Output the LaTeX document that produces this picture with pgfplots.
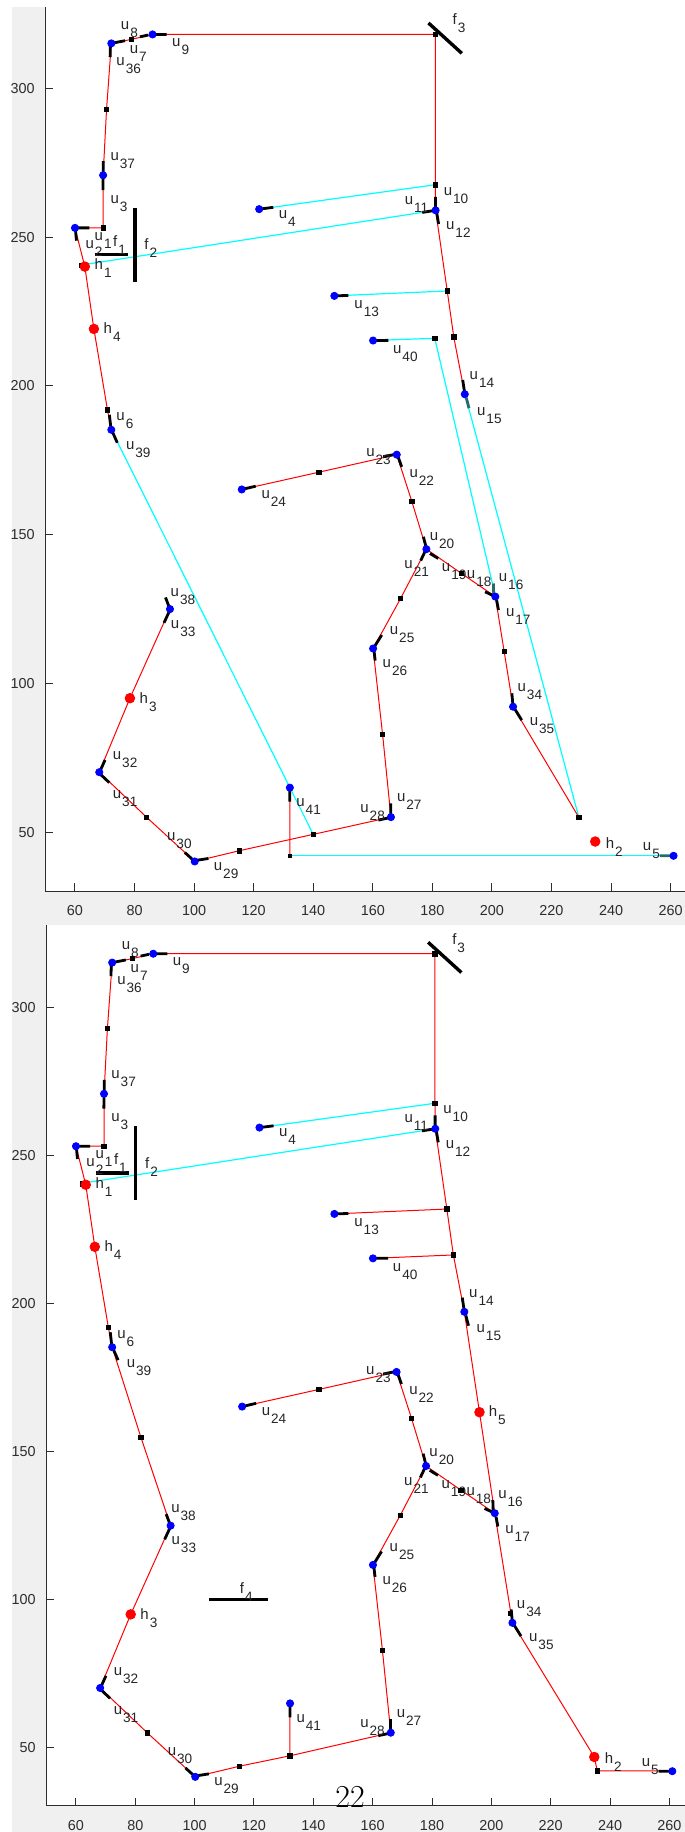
\documentclass[border=0pt]{standalone}
\usepackage{pgfplots}
\pgfplotsset{compat=1.18}
\usepackage{fontspec}
\newfontfamily\arial{Liberation Sans}
\definecolor{figgrey}{RGB}{240,240,240}
\definecolor{axgrey}{RGB}{45,45,45}
\definecolor{tealseg}{RGB}{40,105,105}
\definecolor{cy}{RGB}{0,255,255}
\definecolor{rd}{RGB}{255,0,0}
\definecolor{bl}{RGB}{0,0,255}
\newcommand\labfont{\arial\fontsize{7.5}{8}\selectfont}
\newcommand\subfont{\arial\fontsize{6.8}{7}\selectfont}
\newcommand\lbl[4]{\node[anchor=base west,inner sep=0pt,font=\labfont,text=black!85] at (axis cs:#1,#2) {#3\kern0.5pt\raisebox{-4pt}{\subfont #4}};}
\pgfplotsset{
  redl/.style={rd, line width=0.5pt, mark=none},
  cyanl/.style={cy, line width=0.6pt, mark=none},
  seg/.style={black, line width=1.4pt, mark=none, unbounded coords=jump},
  fl/.style={black, line width=1.7pt, mark=none},
  sqm/.style={only marks, mark=square*, mark size=1.1pt, mark options={draw=black, fill=black}},
  bdot/.style={only marks, mark=*, mark size=1.8pt, mark options={draw=bl, fill=bl}},
  rdot/.style={only marks, mark=*, mark size=2.4pt, mark options={draw=rd, fill=rd}},
  panel/.style={anchor=south west, scale only axis, clip=false,
    axis x line*=bottom, axis y line*=left,
    axis line style={axgrey, line width=0.5pt, -},
    xtick={60,80,...,260}, ytick={50,100,...,300},
    tick align=inside, major tick length=4pt,
    tick style={axgrey, line width=0.5pt},
    /pgf/number format/assume math mode=true,
    xticklabel style={font=\arial\fontsize{7.2}{8}\selectfont, text=axgrey, yshift=-3.8pt},
    yticklabel style={font=\arial\fontsize{7.2}{8}\selectfont, text=axgrey, xshift=-1.8pt},
    axis background/.style={fill=white}},
}
\newcommand\common{%
\addplot[cyanl] coordinates {(121.85,259.4) (181,267.6)};
\addplot[cyanl] coordinates {(64.6,241.0) (176.6,258.3)};
\addplot[redl] coordinates {(181,267.6) (181,318.1) (86.05,318.1) (79,316.45) (72.2,315.1) (70.6,292.9) (69.45,270.8) (69.45,253.1) (60,253.1) (63.3,240.1) (66.35,219.15) (70.9,192) (72.2,185.25)};
\addplot[redl] coordinates {(181,267.6) (181.1,259) (185,231.9) (187.2,216.4) (190.9,197.2)};
\addplot[redl] coordinates {(116,165.2) (141.9,171) (168.05,176.9) (173.1,161.2) (178,145.15) (169.3,128.5) (160.1,111.75) (163.3,82.8) (166.1,55.1)};
\addplot[redl] coordinates {(178,145.15) (189.75,137) (201.15,129.2) (207.1,92.2)};
\addplot[redl] coordinates {(115.15,43.8) (100.2,40.2) (84,55.1) (68.15,70.2) (78.45,95.05) (91.9,125)};
\addplot[sqm] coordinates {(79,316.45) (181,318.1) (70.6,292.9) (69.45,253.1) (62.3,240.4) (70.9,192) (181,267.6) (185,231.9) (187.2,216.4) (141.9,171) (173.1,161.2) (189.75,137) (169.3,128.5) (163.3,82.8) (84,55.1) (115.15,43.8)};
\addplot[seg] coordinates {
(86.05,318.1) (90.8,318.1) (0,nan)
(81.8,317.3) (84.6,317.9) (0,nan)
(72.2,315.1) (76.8,316.0) (0,nan)
(71.9,314.6) (71.8,310.5) (0,nan)
(69.5,275.5) (69.5,271.4) (0,nan)
(69.45,270.2) (69.4,265.8) (0,nan)
(60,253.1) (64.8,253.1) (0,nan)
(60.2,252) (60.5,248.8) (0,nan)
(71.55,190.3) (72.1,185.5) (0,nan)
(72.3,185.2) (74.2,180.9) (0,nan)
(121.85,259.4) (126.6,260) (0,nan)
(147.1,230.25) (151.8,230.4) (0,nan)
(181.05,263.5) (181.05,259.6) (0,nan)
(181.1,259) (176.6,258.3) (0,nan)
(181.5,258) (182.1,254.4) (0,nan)
(160.1,215.25) (165.2,215.3) (0,nan)
(190.2,202) (190.85,197.6) (0,nan)
(91.65,125.6) (90.4,128.9) (0,nan)
(91.9,124.7) (89.9,120.4) (0,nan)
(68.2,70.1) (70.1,74.3) (0,nan)
(68.2,69.8) (71.5,66.7) (0,nan)
(96.9,43.2) (100.2,40.2) (0,nan)
(100.3,40.5) (104.8,41.2) (0,nan)
(132.15,64.8) (132.15,60.3) (0,nan)
(168,177.1) (163.5,176.2) (0,nan)
(168.5,176.2) (169.7,172.8) (0,nan)
(177,149.3) (178,145.4) (0,nan)
(177.5,144.3) (176.1,141.3) (0,nan)
(179.2,143.7) (182,142) (0,nan)
(197.7,130.8) (201.2,129.2) (0,nan)
(201.6,128) (202.2,124.7) (0,nan)
(160.2,111.8) (163,116.3) (0,nan)
(160.4,111.2) (160.8,107.7) (0,nan)
(206.7,96.7) (207.1,92.2) (0,nan)
(207.2,92.2) (210,87.7) (0,nan)
(166,59.7) (166,55.3) (0,nan)
(166.1,55) (161.9,54.1) (0,nan)
(116,165.2) (120.7,166.3)};
\addplot[fl] coordinates {(66.6,244.1) (77.8,244.1)};
\addplot[fl] coordinates {(80.1,235) (80.1,259.8)};
\addplot[fl] coordinates {(178.7,321.95) (189.9,311.75)};
\addplot[bdot] coordinates {(86.05,318.1) (72.2,315.1) (69.45,270.8) (60,253.1) (121.85,259.4) (147.1,230.25) (72.2,185.25) (181.1,259) (160.1,215.25) (190.9,197.2) (168.05,176.9) (178,145.15) (201.15,129.2) (160.1,111.75) (207.1,92.2) (166.1,55.1) (261,42.1) (91.9,125) (68.15,70.2) (100.2,40.2) (132.15,65) (116,165.2)};
\addplot[rdot] coordinates {(63.3,240.1) (66.35,219.15) (78.45,95.05) (234.7,46.9)};
\lbl{75.3}{319.6}{u}{8}
\lbl{78.3}{311.7}{u}{7}
\lbl{73.8}{307.6}{u}{36}
\lbl{92.5}{314.0}{u}{9}
\lbl{71.8}{275.9}{u}{37}
\lbl{71.8}{261.4}{u}{3}
\lbl{66.5}{249.0}{u}{1}
\lbl{63.4}{246.2}{u}{2}
\lbl{72.7}{246.8}{f}{1}
\lbl{83.2}{245.7}{f}{2}
\lbl{66.5}{239.0}{h}{1}
\lbl{69.5}{217.7}{h}{4}
\lbl{73.8}{188.3}{u}{6}
\lbl{77.0}{178.5}{u}{39}
\lbl{128.3}{256.3}{u}{4}
\lbl{186.7}{321.3}{f}{3}
\lbl{183.7}{264.1}{u}{10}
\lbl{170.6}{261.1}{u}{11}
\lbl{184.5}{252.4}{u}{12}
\lbl{153.7}{226.1}{u}{13}
\lbl{166.7}{210.9}{u}{40}
\lbl{192.4}{202.0}{u}{14}
\lbl{194.9}{190.2}{u}{15}
\lbl{122.5}{162.2}{u}{24}
\lbl{92.0}{129.4}{u}{38}
\lbl{92.1}{118.5}{u}{33}
\lbl{81.6}{93.3}{h}{3}
\lbl{72.6}{74.3}{u}{32}
\lbl{72.6}{61.4}{u}{31}
\lbl{90.8}{47.4}{u}{30}
\lbl{106.5}{37.3}{u}{29}
\lbl{134.2}{58.6}{u}{41}
\lbl{157.7}{176.2}{u}{23}
\lbl{172.2}{169.3}{u}{22}
\lbl{179.0}{148.2}{u}{20}
\lbl{170.5}{138.7}{u}{21}
\lbl{183.1}{137.6}{u}{19}
\lbl{191.5}{135.3}{u}{18}
\lbl{202.2}{134.2}{u}{16}
\lbl{204.6}{122.4}{u}{17}
\lbl{165.6}{116.3}{u}{25}
\lbl{163.2}{105.3}{u}{26}
\lbl{208.5}{97.2}{u}{34}
\lbl{212.6}{86.0}{u}{35}
\lbl{168.0}{60.3}{u}{27}
\lbl{155.7}{56.7}{u}{28}
\lbl{238.1}{44.6}{h}{2}
\lbl{250.6}{43.8}{u}{5}
}
\begin{document}
\begin{tikzpicture}
\useasboundingbox (0,0) rectangle (342.5pt,-916pt);
\fill[white] (0,0) rectangle (342.5pt,-916pt);
\fill[figgrey] (6pt,-3.5pt) rectangle (342.5pt,-916pt);
% ---------------- top panel ----------------
\begin{axis}[panel, at={(22.6pt,-445.5pt)}, width=319.9pt, height=442pt,
  xmin=50, xmax=264.84, ymin=30.27, ymax=327.32]
\addplot[cyanl] coordinates {(72.2,185.25) (140,49.3)};
\addplot[cyanl] coordinates {(132.2,42.1) (261,42.1)};
\addplot[cyanl] coordinates {(191.4,195.5) (229.2,55)};
\addplot[cyanl] coordinates {(147.1,230.25) (185,231.9)};
\addplot[cyanl] coordinates {(160.1,215.25) (180.8,216) (200.6,131.8)};
\addplot[redl] coordinates {(166.1,55.1) (140,49.3) (115.15,43.8)};
\addplot[redl] coordinates {(132.15,65) (132.2,42.1)};
\addplot[redl] coordinates {(207.1,92.2) (229.2,55)};
\addplot[sqm] coordinates {(180.8,216) (204.1,110.7) (229.2,55) (140,49.3)};
\addplot[only marks, mark=square*, mark size=0.8pt, mark options={draw=black, fill=black}] coordinates {(132.2,42.1)};
\addplot[tealseg, line width=1.4pt, unbounded coords=jump] coordinates {(191.4,196) (192.3,192.5) (0,nan) (200.5,133.6) (200.6,130) (0,nan) (261,42.1) (256.4,42.1)};
\common
\end{axis}
% ---------------- bottom panel ----------------
\begin{axis}[panel, at={(23.15pt,-902.85pt)}, width=319.35pt, height=440.35pt,
  xmin=50, xmax=265.27, ymin=30.45, ymax=327.79]
\addplot[redl] coordinates {(147.1,230.25) (185,231.9)};
\addplot[redl] coordinates {(160.1,215.25) (187.2,216.4)};
\addplot[redl] coordinates {(190.9,197.2) (196,163.3) (201.15,129.2)};
\addplot[redl] coordinates {(91.9,125) (81.9,154.8) (72.2,185.25)};
\addplot[redl] coordinates {(166.1,55.1) (132.1,47.3) (115.15,43.8)};
\addplot[redl] coordinates {(132.15,65) (132.1,47.3)};
\addplot[redl] coordinates {(207.1,92.2) (234.7,46.9) (235.7,42.2) (261,42.2)};
\addplot[sqm] coordinates {(81.9,154.8) (206.5,95.4) (235.7,42.2) (132.1,47.3) (196,163.3)};
\addplot[seg] coordinates {(191.4,196) (192.3,192.5) (0,nan) (200.5,133.6) (200.6,130) (0,nan) (261,42.1) (256.4,42.1)};
\addplot[fl] coordinates {(104.8,100.1) (124.6,100.1)};
\addplot[rdot] coordinates {(196,163.3)};
\common
\lbl{199.0}{162.0}{h}{5}
\lbl{115.1}{102.1}{f}{4}
\end{axis}
\node[anchor=base, inner sep=0pt, font=\fontsize{16}{16}\selectfont] at (175pt,-903.5pt) {22};
\end{tikzpicture}
\end{document}
